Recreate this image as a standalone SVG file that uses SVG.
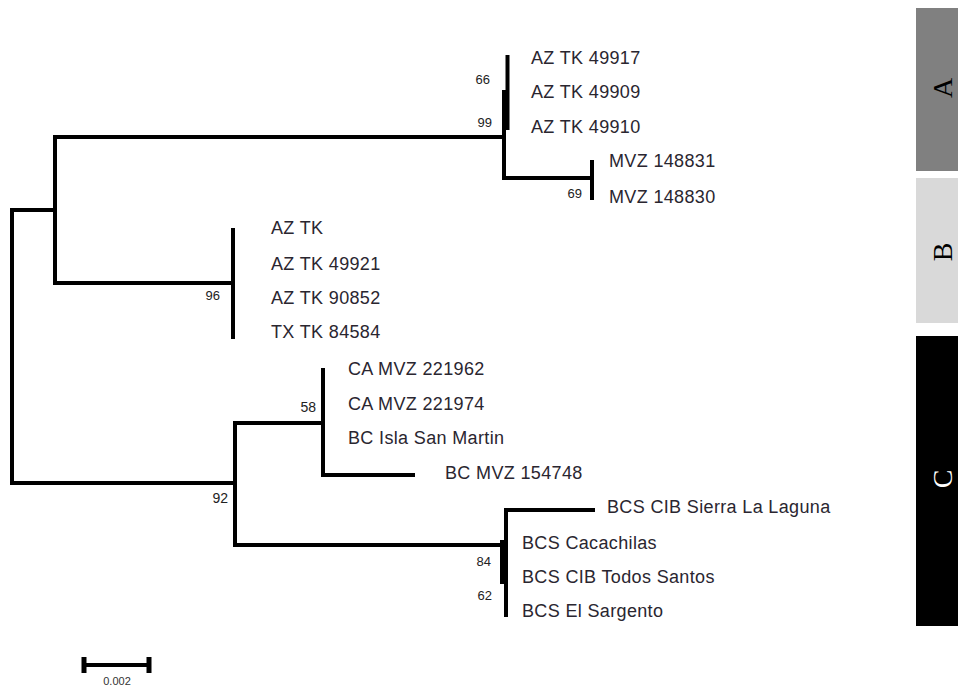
<svg xmlns="http://www.w3.org/2000/svg" width="958" height="690" viewBox="0 0 958 690">
<style>
.br{fill:none;stroke:#000;stroke-width:4;stroke-linecap:square}
.tip{font-family:"Liberation Sans",Arial,sans-serif;font-size:18px;fill:#2a2630;letter-spacing:0.35px}
.bs{font-family:"Liberation Sans",Arial,sans-serif;font-size:13px;fill:#222;text-anchor:end}
.grp{font-family:"Liberation Serif","Times New Roman",serif;font-size:28px;text-anchor:middle}
</style>
<rect width="958" height="690" fill="#fff"/>
<g id="connectors">
<path class="br" d="M55,210 H12 V483 H235"/>
<path class="br" d="M504,137 H55 V283 H233"/>
<path class="br" d="M233,230 V337"/>
<path class="br" d="M504,92 V178 H592"/>
<path class="br" d="M507.5,57 V128"/>
<path class="br" d="M592,162 V198"/>
<path class="br" d="M235,423 V545 H506"/>
<path class="br" d="M235,423 H323"/>
<path class="br" d="M323,370 V475 H413"/>
<path class="br" d="M506,510 V615"/>
<path class="br" d="M506,510 H593"/>
<path class="br" d="M502,542 V582"/>
</g>
<g id="supports">
<text class="bs" x="490" y="84">66</text>
<text class="bs" x="492" y="127">99</text>
<text class="bs" x="582" y="198">69</text>
<text class="bs" x="220" y="300">96</text>
<text class="bs" x="316" y="412" style="font-size:14px">58</text>
<text class="bs" x="228" y="503" style="font-size:14px">92</text>
<text class="bs" x="491" y="566">84</text>
<text class="bs" x="492" y="600">62</text>
</g>
<g id="tips">
<g id="tip-az49917"><text class="tip" x="531" y="64">AZ TK 49917</text></g>
<g id="tip-az49909"><text class="tip" x="531" y="98">AZ TK 49909</text></g>
<g id="tip-az49910"><text class="tip" x="531" y="133">AZ TK 49910</text></g>
<g id="tip-mvz148831"><text class="tip" x="609" y="167">MVZ 148831</text></g>
<g id="tip-mvz148830"><text class="tip" x="609" y="203">MVZ 148830</text></g>
<g id="tip-aztk"><text class="tip" x="271" y="234">AZ TK</text></g>
<g id="tip-az49921"><text class="tip" x="271" y="270">AZ TK 49921</text></g>
<g id="tip-az90852"><text class="tip" x="271" y="304">AZ TK 90852</text></g>
<g id="tip-tx84584"><text class="tip" x="271" y="338">TX TK 84584</text></g>
<g id="tip-ca221962"><text class="tip" x="348" y="375">CA MVZ 221962</text></g>
<g id="tip-ca221974"><text class="tip" x="348" y="410">CA MVZ 221974</text></g>
<g id="tip-bcisla"><text class="tip" x="348" y="444">BC Isla San Martin</text></g>
<g id="tip-bc154748"><text class="tip" x="445" y="479">BC MVZ 154748</text></g>
<g id="tip-bcs-sierra"><text class="tip" x="607" y="513">BCS CIB Sierra La Laguna</text></g>
<g id="tip-bcs-cacachilas"><text class="tip" x="522" y="549">BCS Cacachilas</text></g>
<g id="tip-bcs-todos"><text class="tip" x="522" y="583">BCS CIB Todos Santos</text></g>
<g id="tip-bcs-sargento"><text class="tip" x="522" y="617">BCS El Sargento</text></g>
</g>
<g id="scalebar">
<path class="br" d="M84,665 H149"/>
<path d="M84,657 V673 M149,657 V673" stroke="#000" stroke-width="5" fill="none"/>
<text x="117" y="685" style="font-family:'Liberation Sans',Arial,sans-serif;font-size:11px;fill:#333;text-anchor:middle">0.002</text>
</g>
<g id="group-A">
<rect x="916" y="8" width="42" height="163" fill="#808080"/>
<text class="grp" transform="translate(952,88) rotate(-90)" fill="#000">A</text>
</g>
<g id="group-B">
<rect x="916" y="178" width="42" height="145" fill="#d9d9d9"/>
<text class="grp" transform="translate(952,252) rotate(-90)" fill="#000">B</text>
</g>
<g id="group-C">
<rect x="916" y="336" width="42" height="290" fill="#000"/>
<text class="grp" transform="translate(952,479) rotate(-90)" fill="#fff">C</text>
</g>
</svg>
